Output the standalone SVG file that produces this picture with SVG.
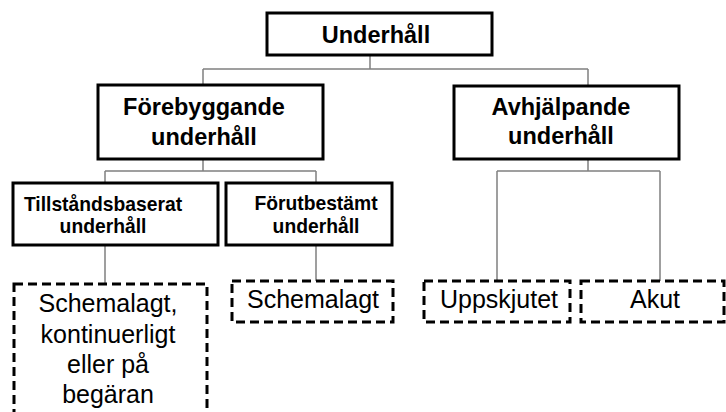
<svg xmlns="http://www.w3.org/2000/svg" width="726" height="412" viewBox="0 0 726 412">
  <style>
    .box { fill: #ffffff; stroke: #000000; stroke-width: 3; }
    .dbox { fill: #ffffff; stroke: #000000; stroke-width: 3; stroke-dasharray: 9 5; }
    .conn { fill: none; stroke: #808080; stroke-width: 1.5; }
    .t1 { font-family: "Liberation Sans", Arial, sans-serif; font-weight: bold; font-size: 23.5px; fill: #000; text-anchor: middle; }
    .t2 { font-family: "Liberation Sans", Arial, sans-serif; font-weight: bold; font-size: 19.3px; fill: #000; text-anchor: middle; }
    .t3 { font-family: "Liberation Sans", Arial, sans-serif; font-size: 25px; fill: #000; text-anchor: middle; }
  </style>
  <rect width="726" height="412" fill="#ffffff"/>

  <g id="connectors">
    <path class="conn" d="M370 55 V69 M203 69 H588 M203 69 V85 M588 69 V86"/>
    <path class="conn" d="M203 159 V171 M105 171 H316 M105 171 V183 M316 171 V183"/>
    <path class="conn" d="M588 159 V171 M497 171 H660 M497 171 V281 M660 171 V281"/>
    <path class="conn" d="M105 245 V284 M316 245 V281"/>
  </g>

  <g id="underhall">
    <rect class="box" x="267" y="13" width="225" height="42"/>
    <text class="t1" x="376" y="43">Underhåll</text>
  </g>

  <g id="forebyggande">
    <rect class="box" x="98" y="85" width="225" height="74"/>
    <text class="t1" x="204" y="115">Förebyggande</text>
    <text class="t1" x="204" y="145">underhåll</text>
  </g>

  <g id="avhjalpande">
    <rect class="box" x="454" y="86" width="225" height="73"/>
    <text class="t1" x="561" y="115">Avhjälpande</text>
    <text class="t1" x="561" y="144">underhåll</text>
  </g>

  <g id="tillstandsbaserat">
    <rect class="box" x="13" y="183" width="205" height="62"/>
    <text class="t2" x="103" y="211">Tillståndsbaserat</text>
    <text class="t2" x="103" y="233">underhåll</text>
  </g>

  <g id="forutbestamt">
    <rect class="box" x="226" y="183" width="166" height="62"/>
    <text class="t2" x="316" y="210">Förutbestämt</text>
    <text class="t2" x="316" y="233">underhåll</text>
  </g>

  <g id="schemalagt-kontinuerligt">
    <rect class="dbox" x="14" y="284" width="193" height="140"/>
    <text class="t3" x="108" y="312">Schemalagt,</text>
    <text class="t3" x="108" y="343">kontinuerligt</text>
    <text class="t3" x="108" y="373">eller på</text>
    <text class="t3" x="108" y="403">begäran</text>
  </g>

  <g id="schemalagt">
    <rect class="dbox" x="232" y="281" width="161" height="41"/>
    <text class="t3" x="313" y="308">Schemalagt</text>
  </g>

  <g id="uppskjutet">
    <rect class="dbox" x="424" y="281" width="146" height="41"/>
    <text class="t3" x="499" y="308">Uppskjutet</text>
  </g>

  <g id="akut">
    <rect class="dbox" x="581" y="281" width="143" height="41"/>
    <text class="t3" x="655" y="308">Akut</text>
  </g>
</svg>
